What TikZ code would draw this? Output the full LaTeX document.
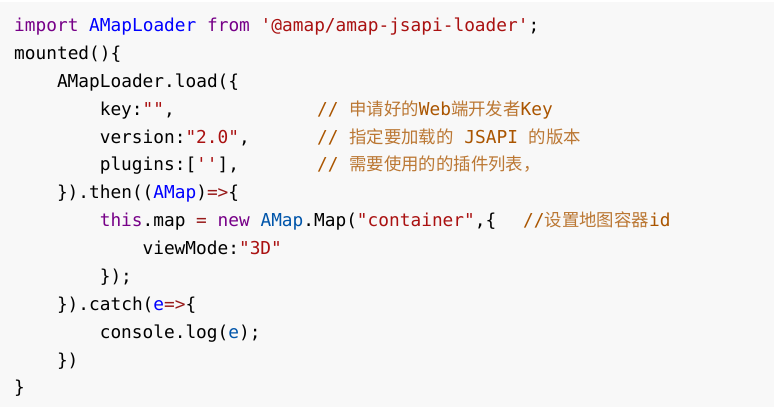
\documentclass[tikz,border=0pt]{standalone}
\usepackage{fontspec}
\setmonofont{DejaVu Sans Mono}
\newfontfamily\cjk{Noto Sans CJK SC}
\definecolor{bgcode}{HTML}{F8F8F8}
\definecolor{kw}{HTML}{770088}
\definecolor{defn}{HTML}{0000FF}
\definecolor{vartwo}{HTML}{0055AA}
\definecolor{str}{HTML}{AA1111}
\definecolor{op}{HTML}{981A1A}
\definecolor{cmt}{HTML}{AA5500}
\newcommand{\K}[1]{\textcolor{kw}{#1}}
\newcommand{\D}[1]{\textcolor{defn}{#1}}
\newcommand{\V}[1]{\textcolor{vartwo}{#1}}
\newcommand{\St}[1]{\textcolor{str}{#1}}
\newcommand{\Op}[1]{\textcolor{op}{#1}}
\newcommand{\Zh}[1]{{\cjk\fontsize{17.4}{20}\selectfont\color{cmt!80}#1}}
\tikzset{
  codeline/.style={anchor=base west, inner sep=0pt, text=black,
    font=\ttfamily\fontsize{17.8}{20}\selectfont},
  cmtline/.style={codeline, text=cmt}
}
\begin{document}
\begin{tikzpicture}[x=1pt, y=-1pt]
\useasboundingbox (0,0) rectangle (774,407);
\fill[bgcode] (0,0) rectangle (774,407);
\draw[white, line width=1.5pt] (0,0.75) -- (774,0.75);
\node[codeline] (l0) at (14,31.6){\K{import} \D{AMapLoader} \K{from} \St{'@amap/amap-jsapi-loader'};};
\node[codeline] (l1) at (14,59.5){mounted()\{};
\node[codeline] (l2) at (56.8,87.3){AMapLoader.load(\{};
\node[codeline] (l3) at (99.6,115.2){key:\St{""},};
\node[cmtline] (c3) at (317,115.2){// \Zh{申请好的}Web\Zh{端开发者}Key};
\node[codeline] (l4) at (99.6,143.1){version:\St{"2.0"},};
\node[cmtline] (c4) at (317,143.1){// \Zh{指定要加载的} JSAPI \Zh{的版本}};
\node[codeline] (l5) at (99.6,170.9){plugins:[\St{''}],};
\node[cmtline] (c5) at (317,170.9){// \Zh{需要使用的的插件列表，}};
\node[codeline] (l6) at (56.8,198.8){\}).then((\D{AMap})\Op{=>}\{};
\node[codeline] (l7) at (99.6,226.7){\K{this}.map \Op{=} \K{new} \V{AMap}.Map(\St{"container"},\{};
\node[cmtline] (c7) at (523,226.7){//\Zh{设置地图容器}id};
\node[codeline] (l8) at (142.4,254.6){viewMode:\St{"3D"}};
\node[codeline] (l9) at (99.6,282.4){\});};
\node[codeline] (l10) at (56.8,310.3){\}).catch(\D{e}\Op{=>}\{};
\node[codeline] (l11) at (99.6,338.2){console.log(\V{e});};
\node[codeline] (l12) at (56.8,366.0){\})};
\node[codeline] (l13) at (14,393.9){\}};
\end{tikzpicture}
\end{document}
